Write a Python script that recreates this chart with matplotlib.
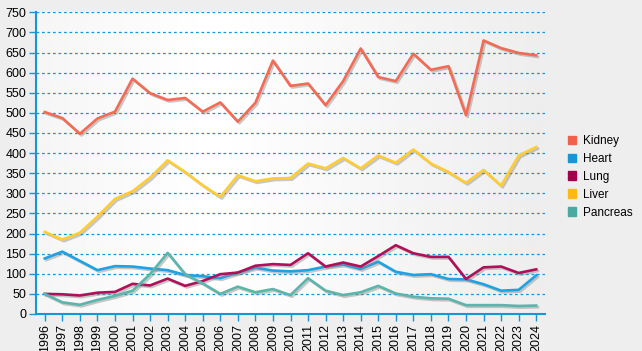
import matplotlib
matplotlib.use('Agg')
import matplotlib.pyplot as plt
import matplotlib.patheffects as pe
import numpy as np

plt.rcParams['font.family'] = ['Liberation Sans', 'DejaVu Sans']

# Data
years = [str(y) for y in range(1996, 2025)]
kidney = [502, 487, 448, 486, 503, 585, 549, 532, 537, 503, 526, 478, 525, 630, 567,
          573, 519, 579, 660, 589, 579, 647, 607, 616, 494, 680, 661, 649, 643]
heart = [138, 155, 132, 109, 119, 118, 113, 109, 97, 94, 89, 103, 115, 108, 106,
         109, 118, 123, 112, 130, 105, 97, 99, 87, 86, 74, 58, 60, 96]
lung = [50, 49, 46, 53, 55, 75, 71, 88, 70, 82, 99, 103, 120, 124, 122,
        151, 118, 128, 118, 144, 171, 151, 142, 142, 87, 116, 118, 102, 111]
liver = [204, 185, 202, 242, 286, 305, 339, 382, 353, 320, 291, 345, 330, 337, 338,
         374, 362, 388, 362, 394, 376, 409, 374, 353, 326, 358, 319, 394, 415]
pancreas = [50, 29, 23, 35, 45, 58, 99, 152, 99, 76, 50, 68, 54, 62, 47,
            89, 58, 47, 54, 70, 51, 43, 39, 38, 22, 22, 22, 20, 21]

series = [("Kidney", kidney, "#F0604A", "#F26B55"),
          ("Heart", heart, "#1496D8", "#1EA2E4"),
          ("Lung", lung, "#A0004C", "#B0105A"),
          ("Liver", liver, "#FFB914", "#FFCC33"),
          ("Pancreas", pancreas, "#4AA9A0", "#5CB5AC")]

axis_col = "#1496D8"

fig = plt.figure(figsize=(6.42, 3.51), dpi=100, facecolor="#EEEEEE")
ax = fig.add_axes([36 / 642, 1 - 314 / 351, (545 - 36) / 642, (314 - 12.3) / 351])

x = np.arange(len(years))
ax.set_xlim(-0.5, len(years) - 0.5)
ax.set_ylim(0, 750)

# soft background gradient in plot area
grad = np.linspace(0, 1, 256)
vals = 1 - 0.07 * np.abs(grad - 0.35) / 0.65
ax.imshow(np.tile(vals, (2, 1)), extent=[-0.5, len(years) - 0.5, 0, 750], aspect='auto',
          cmap='gray', vmin=0, vmax=1, zorder=0)

for yv in range(50, 751, 50):
    ax.axhline(yv, color=axis_col, lw=0.9, ls=(0, (2.2, 2.2)), zorder=1)

shadow = [pe.SimpleLineShadow(offset=(1.2, -1.2), shadow_color='#888888', alpha=0.45),
          pe.Normal()]
for name, vals_s, col, lcol in series:
    ax.plot(x, vals_s, color=lcol, lw=1.9, zorder=3, path_effects=shadow,
            solid_joinstyle='round')

ax.set_xticks(x)
ax.set_xticklabels(years, rotation=90, fontsize=9)
ax.set_yticks(range(0, 751, 50))
ax.tick_params(axis='y', labelsize=9, length=5, color=axis_col, width=1, pad=2)
ax.tick_params(axis='x', length=5, color=axis_col, width=1, pad=2)
for s in ['top', 'right']:
    ax.spines[s].set_visible(False)
for s in ['left', 'bottom']:
    ax.spines[s].set_color(axis_col)
    ax.spines[s].set_linewidth(1.5)

handles = [plt.Rectangle((0, 0), 1, 1, color=c) for _, _, c, _ in series]
leg = fig.legend(handles, [n for n, _, _, _ in series], loc='upper left',
                 bbox_to_anchor=(562 / 642, 1 - 129 / 351), frameon=False,
                 fontsize=8.5, handlelength=0.7, handleheight=0.7, handletextpad=0.6,
                 labelspacing=0.5, borderpad=0)

fig.savefig("out.png", dpi=100, facecolor=fig.get_facecolor())
